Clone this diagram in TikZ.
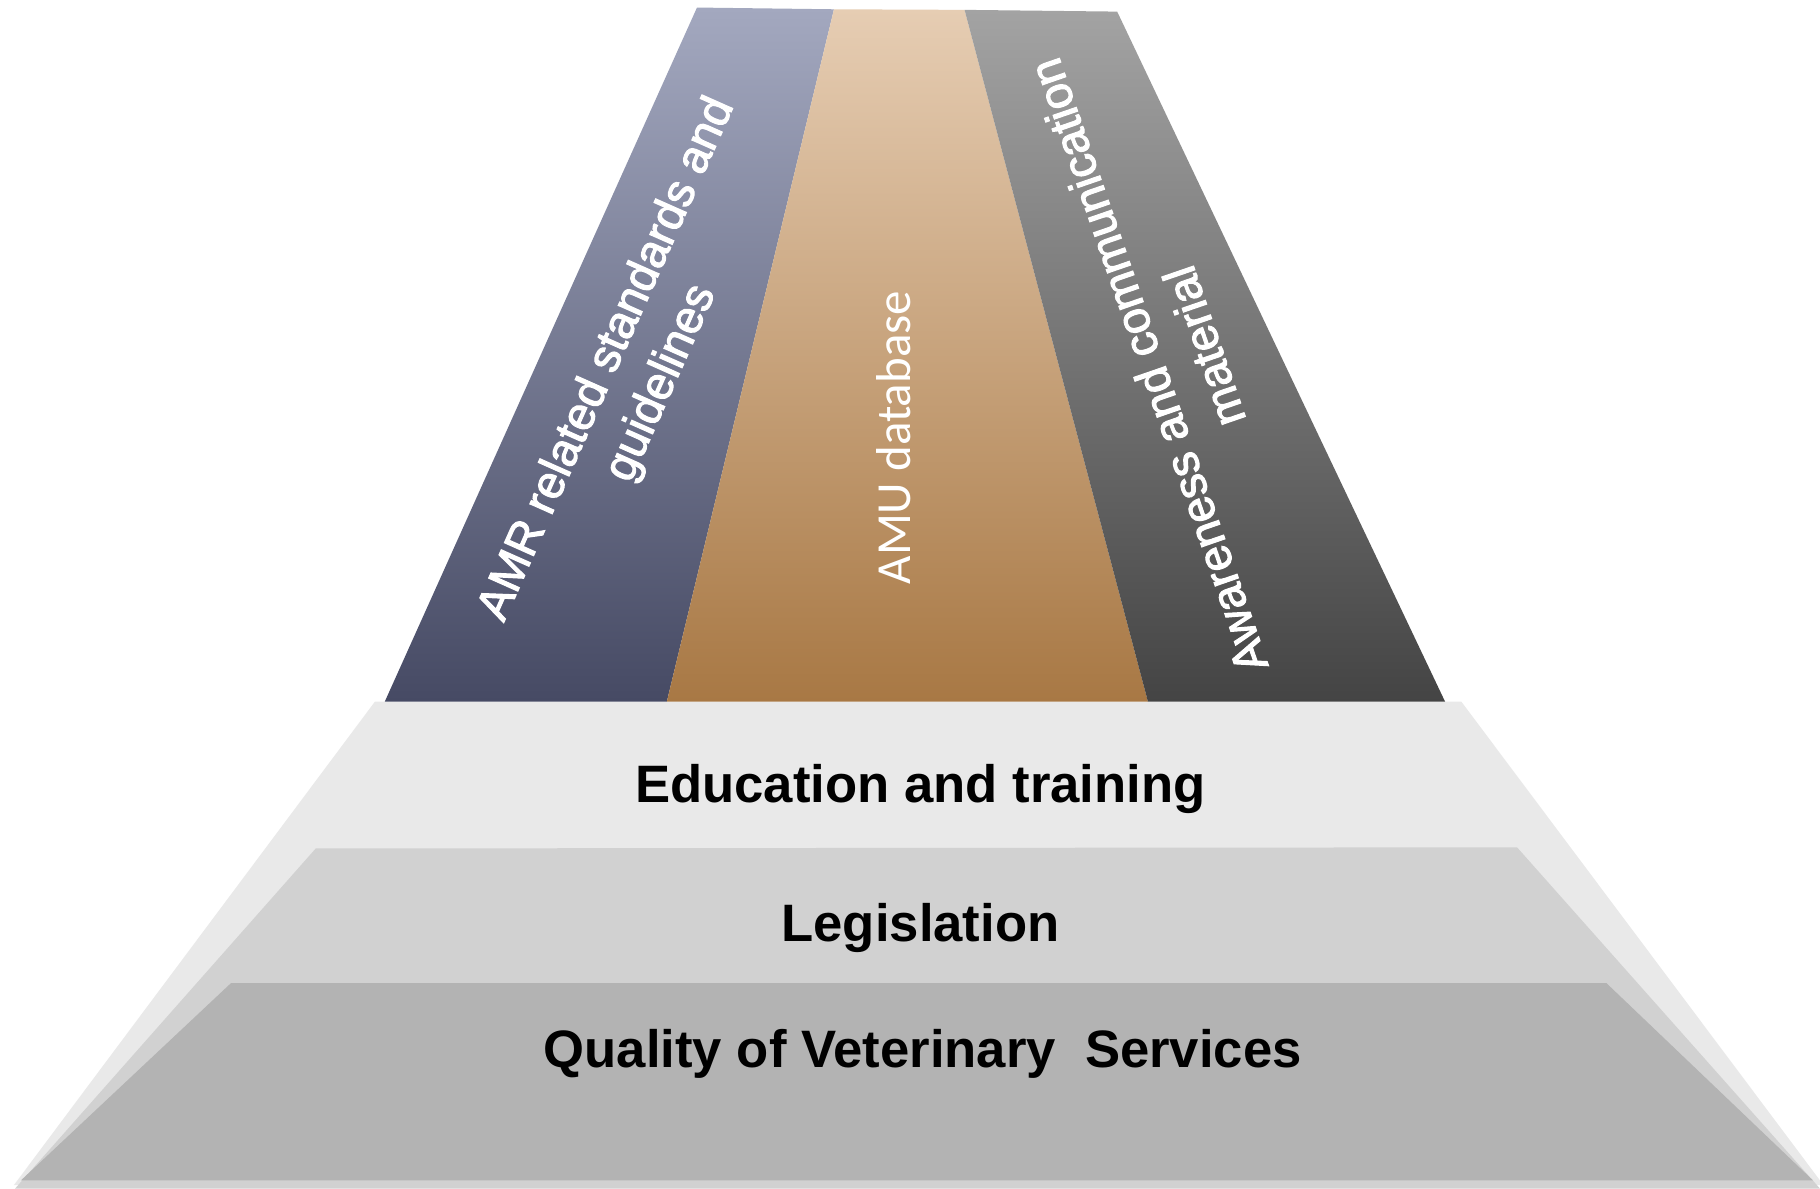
\documentclass[tikz,border=0pt]{standalone}
\usepackage{fontspec}
\usepackage{xcolor}
\setmainfont{Liberation Sans}
\newfontfamily\amufont{Carlito}
\newfontfamily\pillarfont[FakeBold=2.2]{Liberation Sans}
\definecolor{amrtop}{HTML}{A3A8BF}
\definecolor{amrbot}{HTML}{464A64}
\definecolor{amutop}{HTML}{E6CDB3}
\definecolor{amubot}{HTML}{A87844}
\definecolor{awatop}{HTML}{A3A3A3}
\definecolor{awabot}{HTML}{444444}
\definecolor{tierone}{HTML}{E9E9E9}
\definecolor{tiertwo}{HTML}{D1D1D1}
\definecolor{tierthree}{HTML}{B3B3B3}

\begin{document}
\begin{tikzpicture}[x=0.01cm, y=-0.01cm,
    tiertext/.style={font=\fontsize{12.9}{15}\selectfont\bfseries, text=black, anchor=base, inner sep=0pt},
    pillartext/.style={font=\pillarfont\fontsize{11.4}{14.5}\selectfont, text=white, align=center, inner sep=0pt}]
    % Fix the page
    \useasboundingbox (0,0) rectangle (1568,1024);
    \fill[white] (0,0) rectangle (1568,1024);
    \clip (0,0) rectangle (1568,1024);

    % Draw the base tiers
    \fill[tierone] (323,604.5) -- (1259,604.5) -- (1571,1021) -- (12,1021) -- cycle;
    \fill[tiertwo] (272,731) -- (1307,730) -- (1568,1024) -- (13,1024) -- cycle;
    \fill[tierthree] (199,847) -- (1384,847) -- (1562,1017) -- (18,1017) -- cycle;

    % Draw the pillars
    \shade[top color=amrtop, bottom color=amrbot] (600.5,6.5) -- (718.5,8) -- (574.5,604.5) -- (331.5,604.5) -- cycle;
    \shade[top color=amutop, bottom color=amubot] (718.5,8) -- (831,8.5) -- (989,604.5) -- (574.5,604.5) -- cycle;
    \shade[top color=awatop, bottom color=awabot] (831,8.5) -- (962.5,10) -- (1245,604.5) -- (989,604.5) -- cycle;

    % Label the pillars
    \node (amr) at (547,320) [pillartext, rotate=66] {AMR related standards and\\guidelines};
    \node (amu) at (770,377) [pillartext, rotate=90, font=\amufont\fontsize{12}{14}\selectfont] {AMU database};
    \node (awa) at (1013,307) [pillartext, rotate=109] {Awareness and communication\\material};

    % Label the tiers
    \node (edu) at (793,691) [tiertext] {Education and training};
    \node (leg) at (793,811) [tiertext] {Legislation};
    \node (qvs) at (795,920) [tiertext] {Quality of Veterinary\ \ Services};

\end{tikzpicture}
\end{document}
